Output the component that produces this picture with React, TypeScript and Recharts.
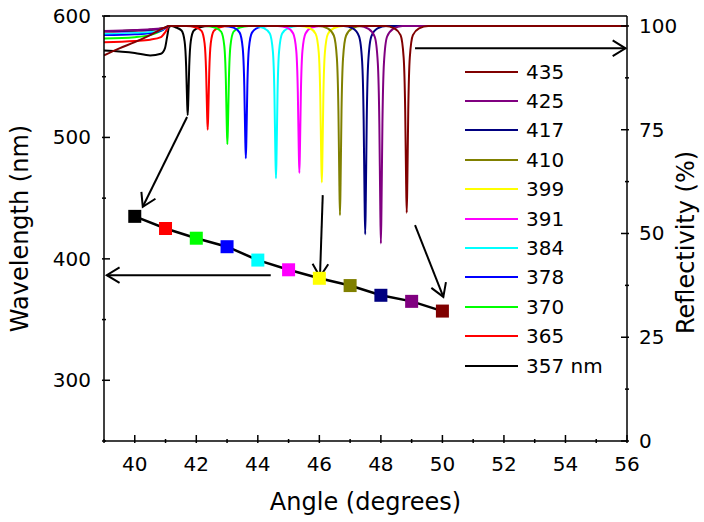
import React from 'react';
import { ComposedChart, Line, XAxis, YAxis, ReferenceLine, Legend } from 'recharts';

const FONT = "'DejaVu Sans', sans-serif";

// reflectivity curves, legend order (top to bottom): [angle, reflectivity %]
const LEGEND_LABELS = ['435', '425', '417', '410', '399', '391', '384', '378', '370', '365', '357 nm'];
const CURVE_COLORS = ['#800000', '#800080', '#000080', '#808000', '#ffff00', '#ff00ff', '#00ffff', '#0000ff', '#00ff00', '#ff0000', '#000000'];

const curveDarkRed: [number, number][] = [
  [39, 92.9], [39.5, 94.6], [40, 96.1], [40.5, 97.8], [41, 99.7], [41.12, 100], [48.14, 100],
  [48.44, 99.4], [48.64, 97.8], [48.74, 92.4], [48.79, 79.8], [48.82, 62.7], [48.84, 55.0],
  [48.86, 62.7], [48.89, 79.8], [48.94, 92.4], [49.04, 97.8], [49.24, 99.4], [49.54, 100], [56, 100],
];
const curvePurple: [number, number][] = [
  [39, 98.8], [40, 99.0], [40.5, 99.2], [41, 99.6], [41.12, 100], [47.3, 100],
  [47.6, 99.3], [47.8, 97.4], [47.9, 91.1], [47.95, 76.4], [47.98, 56.5], [48.0, 47.6],
  [48.02, 56.5], [48.05, 76.4], [48.1, 91.1], [48.2, 97.4], [48.4, 99.3], [48.7, 100], [56, 100],
];
const curveNavy: [number, number][] = [
  [39, 98.7], [40, 98.9], [40.5, 99.1], [41, 99.6], [41.12, 100], [46.79, 100],
  [47.09, 99.4], [47.29, 97.5], [47.39, 91.5], [47.44, 77.4], [47.47, 58.3], [47.49, 49.8],
  [47.51, 58.3], [47.54, 77.4], [47.59, 91.5], [47.69, 97.5], [47.89, 99.4], [48.19, 100], [56, 100],
];
const curveOlive: [number, number][] = [
  [39, 98.7], [40, 98.9], [40.5, 99.1], [41, 99.6], [41.12, 100], [45.97, 100],
  [46.27, 99.4], [46.47, 97.7], [46.57, 92.2], [46.62, 79.5], [46.65, 62.2], [46.67, 54.4],
  [46.69, 62.2], [46.72, 79.5], [46.77, 92.2], [46.87, 97.7], [47.07, 99.4], [47.37, 100], [56, 100],
];
const curveYellow: [number, number][] = [
  [39, 98.7], [40, 98.9], [40.5, 99.1], [41, 99.6], [41.12, 100], [45.38, 100],
  [45.68, 99.5], [45.88, 98.1], [45.98, 93.6], [46.03, 83.0], [46.06, 68.7], [46.08, 62.3],
  [46.1, 68.7], [46.13, 83.0], [46.18, 93.6], [46.28, 98.1], [46.48, 99.5], [46.78, 100], [56, 100],
];
const curveMagenta: [number, number][] = [
  [39, 98.6], [40, 98.8], [40.5, 99.0], [41, 99.5], [41.12, 100], [44.65, 100],
  [44.95, 99.6], [45.15, 98.2], [45.25, 94.0], [45.3, 84.1], [45.33, 70.6], [45.35, 64.6],
  [45.37, 70.6], [45.4, 84.1], [45.45, 94.0], [45.55, 98.2], [45.75, 99.6], [46.05, 100], [56, 100],
];
const curveCyan: [number, number][] = [
  [39, 98.2], [40, 98.4], [40.5, 98.6], [40.9, 99.2], [41.12, 100], [43.89, 100],
  [44.19, 99.5], [44.39, 98.2], [44.49, 93.8], [44.54, 83.5], [44.57, 69.5], [44.59, 63.3],
  [44.61, 69.5], [44.64, 83.5], [44.69, 93.8], [44.79, 98.2], [44.99, 99.5], [45.29, 100], [56, 100],
];
const curveBlue: [number, number][] = [
  [39, 97.8], [40, 98.0], [40.5, 98.3], [40.9, 99.0], [41.12, 100], [42.91, 100],
  [43.21, 99.6], [43.41, 98.4], [43.51, 94.6], [43.56, 85.6], [43.59, 73.5], [43.61, 68.1],
  [43.63, 73.5], [43.66, 85.6], [43.71, 94.6], [43.81, 98.4], [44.01, 99.6], [44.31, 100], [56, 100],
];
const curveGreen: [number, number][] = [
  [39, 97.0], [40, 97.3], [40.5, 97.8], [40.9, 99.0], [41.12, 100], [42.31, 100],
  [42.61, 99.6], [42.81, 98.6], [42.91, 95.2], [42.96, 87.2], [42.99, 76.3], [43.01, 71.5],
  [43.03, 76.3], [43.06, 87.2], [43.11, 95.2], [43.21, 98.6], [43.41, 99.6], [43.71, 100], [56, 100],
];
const curveRed: [number, number][] = [
  [39, 96.1], [40, 96.4], [40.5, 96.7], [40.85, 97.3], [41.0, 98.6], [41.12, 100], [41.67, 100],
  [41.97, 99.7], [42.17, 98.8], [42.27, 95.8], [42.32, 88.8], [42.35, 79.3], [42.37, 75.0],
  [42.39, 79.3], [42.42, 88.8], [42.47, 95.8], [42.57, 98.8], [42.77, 99.7], [43.07, 100], [56, 100],
];
const curveBlack: [number, number][] = [
  [39, 94.1], [40, 93.5], [40.5, 92.9], [40.85, 93.3], [40.98, 94.6], [41.05, 97.3], [41.12, 99.8], [41.2, 100],
  [41.32, 99.7], [41.52, 98.9], [41.62, 96.3], [41.67, 90.3], [41.7, 82.2], [41.72, 78.5],
  [41.74, 82.2], [41.77, 90.3], [41.82, 96.3], [41.92, 98.9], [42.12, 99.7], [42.42, 100], [56, 100],
];
const CURVES = [curveDarkRed, curvePurple, curveNavy, curveOlive, curveYellow, curveMagenta, curveCyan, curveBlue, curveGreen, curveRed, curveBlack];

// resonance wavelength vs angle (left axis)
const ANGLES = [40, 41, 42, 43, 44, 45, 46, 47, 48, 49, 50];
const WAVELENGTHS = [435, 425, 417, 410, 399, 391, 384, 378, 370, 365, 357];
const SQUARE_COLORS = ['#000000', '#ff0000', '#00ff00', '#0000ff', '#00ffff', '#ff00ff', '#ffff00', '#808000', '#000080', '#800080', '#800000'];

const X_TICKS = [39, 40, 41, 42, 43, 44, 45, 46, 47, 48, 49, 50, 51, 52, 53, 54, 55, 56];
const WL_TICKS = [250, 300, 350, 400, 450, 500, 550, 600];
const R_TICKS = [0, 12.5, 25, 37.5, 50, 62.5, 75, 87.5, 100];

// annotation arrows in (angle, wavelength) units
const ARROWS: { from: [number, number]; to: [number, number] }[] = [
  { from: [41.7, 516.8], to: [40.26, 442.9] },
  { from: [46.11, 452.5], to: [46.02, 385.2] },
  { from: [49.11, 427.8], to: [50.03, 368.7] },
  { from: [49.11, 573.4], to: [55.95, 573.4] },
  { from: [44.42, 386.6], to: [39.09, 386.6] },
];

const wlData = ANGLES.map((a, i) => ({ x: a, wl: WAVELENGTHS[i] }));
const curveData = CURVES.map((pts) => pts.map(([x, r]) => ({ x, r })));

const XTick = (props: any) => {
  const { x, y, payload } = props;
  const v = payload.value as number;
  const major = v % 2 === 0;
  return (
    <g>
      <line x1={x} y1={y} x2={x} y2={y - (major ? 8 : 4)} stroke="#000" strokeWidth={1.5} />
      {major && (
        <text x={x} y={y + 28} textAnchor="middle" fontSize={20} fill="#000">{v}</text>
      )}
    </g>
  );
};

const LeftTick = (props: any) => {
  const { x, y, payload } = props;
  const v = payload.value as number;
  const major = v % 100 === 0;
  return (
    <g>
      <line x1={x} y1={y} x2={x + (major ? 8 : 4)} y2={y} stroke="#000" strokeWidth={1.5} />
      {major && (
        <text x={x - 11} y={y + 7} textAnchor="end" fontSize={20} fill="#000">{v}</text>
      )}
    </g>
  );
};

const RightTick = (props: any) => {
  const { x, y, payload } = props;
  const v = payload.value as number;
  const major = v % 25 === 0;
  return (
    <g>
      <line x1={x} y1={y} x2={x - (major ? 8 : 4)} y2={y} stroke="#000" strokeWidth={1.5} />
      {major && (
        <text x={x + 10} y={y + 7} textAnchor="start" fontSize={20} fill="#000">{v}</text>
      )}
    </g>
  );
};

const ArrowShape = (props: any) => {
  const { x1, y1, x2, y2 } = props;
  const ang = Math.atan2(y2 - y1, x2 - x1);
  const len = 15;
  const spread = 0.55;
  const ax = x2 - len * Math.cos(ang - spread);
  const ay = y2 - len * Math.sin(ang - spread);
  const bx = x2 - len * Math.cos(ang + spread);
  const by = y2 - len * Math.sin(ang + spread);
  return (
    <g>
      <line x1={x1} y1={y1} x2={x2} y2={y2} stroke="#000" strokeWidth={2} />
      <polyline points={`${ax},${ay} ${x2},${y2} ${bx},${by}`} fill="none" stroke="#000" strokeWidth={2} />
    </g>
  );
};

const LegendBox = () => (
  <div style={{ fontSize: 20, fontFamily: FONT, color: '#000' }}>
    {LEGEND_LABELS.map((label, i) => (
      <div key={label} style={{ display: 'flex', alignItems: 'center', height: 29.4 }}>
        <span style={{ display: 'inline-block', width: 53, height: 2, background: CURVE_COLORS[i] }} />
        <span style={{ marginLeft: 8, lineHeight: '20px' }}>{label}</span>
      </div>
    ))}
  </div>
);

export default function App() {
  // draw black first so dark red ends up on top of the flat part
  const order = CURVES.map((_, i) => CURVES.length - 1 - i);
  return (
    <div style={{ position: 'absolute', left: 0, top: 0, fontFamily: FONT, background: '#fff' }}>
      <ComposedChart width={704} height={522} margin={{ top: 16, right: 0, bottom: 0, left: 0 }}>
        <XAxis
          type="number"
          dataKey="x"
          domain={[39, 56]}
          ticks={X_TICKS}
          interval={0}
          allowDataOverflow
          height={81}
          tickSize={0}
          tickLine={false}
          axisLine={{ stroke: '#000', strokeWidth: 1.5 }}
          tick={XTick}
          label={{ value: 'Angle (degrees)', position: 'insideBottom', offset: 12, fontSize: 24, fill: '#000' }}
        />
        <YAxis
          yAxisId="wl"
          type="number"
          domain={[250, 600]}
          ticks={WL_TICKS}
          interval={0}
          allowDataOverflow
          width={104}
          tickSize={0}
          tickLine={false}
          axisLine={{ stroke: '#000', strokeWidth: 1.5 }}
          tick={LeftTick}
          label={{ value: 'Wavelength (nm)', angle: -90, position: 'insideLeft', offset: 19, textAnchor: 'middle', fontSize: 24, fill: '#000' }}
        />
        <YAxis
          yAxisId="R"
          orientation="right"
          type="number"
          domain={[0, 102.4]}
          ticks={R_TICKS}
          interval={0}
          allowDataOverflow
          width={77}
          tickSize={0}
          tickLine={false}
          axisLine={{ stroke: '#000', strokeWidth: 1.5 }}
          tick={RightTick}
          label={{ value: 'Reflectivity (%)', angle: -90, position: 'insideRight', offset: 19, textAnchor: 'middle', dy: 14, fontSize: 24, fill: '#000' }}
        />
        <ReferenceLine yAxisId="wl" y={600} stroke="#000" strokeWidth={1.5} />

        {order.map((i) => (
          <Line
            key={LEGEND_LABELS[i]}
            yAxisId="R"
            data={curveData[i]}
            dataKey="r"
            type="monotone"
            stroke={CURVE_COLORS[i]}
            strokeWidth={2}
            dot={false}
            activeDot={false}
            isAnimationActive={false}
          />
        ))}

        <Line
          yAxisId="wl"
          data={wlData}
          dataKey="wl"
          type="linear"
          stroke="#000"
          strokeWidth={2.5}
          isAnimationActive={false}
          activeDot={false}
          dot={(p: any) => (
            <rect key={`sq-${p.index}`} x={p.cx - 6.5} y={p.cy - 6.5} width={13} height={13} fill={SQUARE_COLORS[p.index]} />
          )}
        />

        {ARROWS.map((a, i) => (
          <ReferenceLine
            key={`arrow-${i}`}
            yAxisId="wl"
            segment={[{ x: a.from[0], y: a.from[1] }, { x: a.to[0], y: a.to[1] }]}
            shape={ArrowShape}
          />
        ))}

        <Legend
          layout="vertical"
          align="center"
          verticalAlign="middle"
          wrapperStyle={{ left: 465, top: 57, width: 'auto' }}
          content={() => <LegendBox />}
        />
      </ComposedChart>
    </div>
  );
}
